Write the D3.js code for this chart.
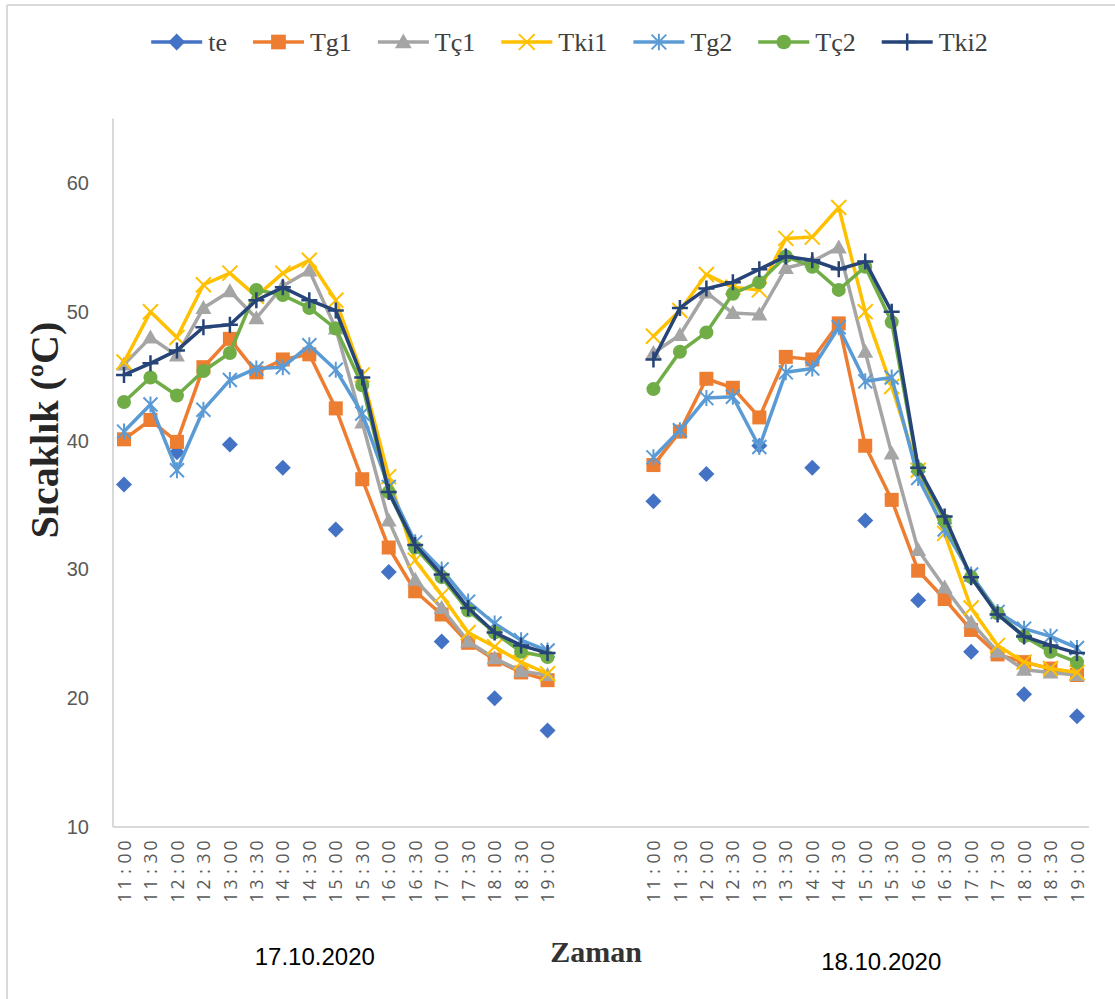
<!DOCTYPE html>
<html><head><meta charset="utf-8">
<script src="https://cdn.jsdelivr.net/npm/d3@7"></script>
<style>body{margin:0;background:#fff} svg{display:block}</style>
</head><body>
<svg id="chart" width="1115" height="999"></svg>
<script>
// ---------------- data ----------------
const times = ["11:00","11:30","12:00","12:30","13:00","13:30","14:00","14:30","15:00","15:30","16:00","16:30","17:00","17:30","18:00","18:30","19:00"];
const gapSlots = ["gap1","gap2","gap3"];
const dayLabels = ["17.10.2020","18.10.2020"];
const seriesNames = ["te","Tg1","Tç1","Tki1","Tg2","Tç2","Tki2"];
const yTicks = [10,20,30,40,50,60];

const te_d1   = [36.6,null,39.1,null,39.7,null,37.9,null,33.1,null,29.8,null,24.4,null,20.0,null,17.5];
const te_d2   = [35.3,null,37.4,null,39.6,null,37.9,null,33.8,null,27.6,null,23.6,null,20.3,null,18.6];
const tg1_d1  = [40.1,41.6,39.9,45.7,47.9,45.3,46.3,46.7,42.5,37.0,31.7,28.3,26.5,24.3,23.0,22.0,21.4];
const tg1_d2  = [38.1,40.7,44.8,44.1,41.8,46.5,46.3,49.1,39.6,35.4,29.9,27.7,25.3,23.4,22.8,22.3,21.8];
const tc1_d1  = [45.9,48.0,46.6,50.3,51.6,49.5,52.0,53.2,48.7,41.4,33.8,29.2,27.0,24.4,23.1,22.1,21.8];
const tc1_d2  = [46.8,48.2,51.5,49.9,49.8,53.4,53.9,55.0,46.9,39.0,31.5,28.6,25.9,23.6,22.2,22.0,21.8];
const tki1_d1 = [46.1,50.0,48.0,52.1,53.0,51.2,53.0,54.0,50.9,45.1,37.2,30.7,28.0,25.1,24.0,22.8,21.9];
const tki1_d2 = [48.1,50.1,52.9,51.9,51.7,55.7,55.8,58.1,50.0,44.2,37.7,32.8,27.0,24.1,22.8,22.3,22.0];
const tg2_d1  = [40.7,42.8,37.7,42.4,44.7,45.6,45.7,47.4,45.5,42.1,36.4,32.1,30.0,27.5,25.8,24.5,23.7];
const tg2_d2  = [38.7,40.8,43.3,43.4,39.5,45.3,45.6,48.8,44.6,44.9,37.1,33.1,29.6,26.7,25.4,24.8,23.9];
const tc2_d1  = [43.0,44.9,43.5,45.4,46.8,51.7,51.3,50.3,48.7,44.3,36.0,31.7,29.4,26.8,25.1,23.6,23.2];
const tc2_d2  = [44.0,46.9,48.4,51.4,52.3,54.3,53.5,51.7,53.5,49.2,37.8,33.8,29.4,26.6,24.8,23.6,22.8];
const tki2_d1 = [45.1,46.0,47.0,48.8,49.0,50.9,51.9,50.9,50.1,44.9,36.0,31.9,29.6,27.0,25.1,24.1,23.5];
const tki2_d2 = [46.3,50.3,51.8,52.3,53.3,54.3,54.0,53.3,53.9,50.0,37.9,34.1,29.4,26.5,24.8,24.1,23.5];

const seriesData = [
  [te_d1, te_d2], [tg1_d1, tg1_d2], [tc1_d1, tc1_d2], [tki1_d1, tki1_d2],
  [tg2_d1, tg2_d2], [tc2_d1, tc2_d2], [tki2_d1, tki2_d2]
];
const colors = ["#4472C4","#ED7D31","#A5A5A5","#FFC000","#5B9BD5","#70AD47","#264478"];
const markers = ["diamond","square","triangle","x","star","circle","plus"];
const showLine = [false,true,true,true,true,true,true];

// ---------------- chart ----------------
const svg = d3.select("#chart");
const cats1 = times.map(t => "d1 " + t);
const cats2 = times.map(t => "d2 " + t);
const cats = cats1.concat(gapSlots, cats2);

const x = d3.scalePoint().domain(cats).range([124, 1077]);
const y = d3.scaleLinear().domain([10, 65]).range([827, 118.6]);

// chart area border
svg.append("line").attr("x1",7).attr("x2",1115).attr("y1",5).attr("y2",5).attr("stroke","#d9d9d9").attr("stroke-width",2);
svg.append("line").attr("x1",7).attr("x2",7).attr("y1",5).attr("y2",999).attr("stroke","#d9d9d9").attr("stroke-width",2);

// axes lines
svg.append("line").attr("x1",113).attr("x2",1089).attr("y1",y(10)).attr("y2",y(10)).attr("stroke","#d9d9d9").attr("stroke-width",2);
svg.append("line").attr("x1",113).attr("x2",113).attr("y1",y(65)).attr("y2",y(10)).attr("stroke","#d9d9d9").attr("stroke-width",2);

// y axis
const yAxis = svg.append("g").attr("transform","translate(113,0)")
  .call(d3.axisLeft(y).tickValues(yTicks).tickSize(0).tickPadding(24));
yAxis.select(".domain").remove();
yAxis.selectAll("text").attr("font-family","Liberation Sans, Arial, sans-serif").attr("font-size",20).attr("fill","#595959");

// x axis (rotated labels, characters evenly spaced)
const xAxis = svg.append("g").attr("transform",`translate(0,${y(10)})`)
  .call(d3.axisBottom(x).tickValues(cats1.concat(cats2)).tickSize(0).tickFormat(d => d.slice(3)));
xAxis.select(".domain").remove();
xAxis.selectAll("text")
  .attr("font-family","Open Sans, sans-serif").attr("font-size",17.5).attr("fill","#595959")
  .attr("text-anchor","middle").attr("transform","rotate(-90)")
  .attr("y",0).attr("dy","0.35em")
  .attr("x", function() {
    const n = this.textContent.length;
    return d3.range(n).map(i => -(902 - 827) + 4.5 + i*13).join(" ");
  });

// axis titles
svg.append("text").attr("transform","translate(58,430) rotate(-90)").attr("text-anchor","middle")
  .attr("font-family","Liberation Serif, Times New Roman, serif").attr("font-weight","bold")
  .attr("font-size",40).attr("fill","#262626").text("Sıcaklık (ºC)");
svg.append("text").attr("x",596).attr("y",962).attr("text-anchor","middle")
  .attr("font-family","Liberation Serif, Times New Roman, serif").attr("font-weight","bold")
  .attr("font-size",30).attr("fill","#333").text("Zaman");
const dayCenters = [
  (x(cats1[0]) + x(cats1[cats1.length-1]))/2 - 21,
  (x(cats2[0]) + x(cats2[cats2.length-1]))/2 + 16
];
svg.append("text").attr("x",dayCenters[0]).attr("y",965).attr("text-anchor","middle")
  .attr("font-family","Liberation Sans, Arial, sans-serif").attr("font-size",24).attr("fill","#000").text(dayLabels[0]);
svg.append("text").attr("x",dayCenters[1]).attr("y",970).attr("text-anchor","middle")
  .attr("font-family","Liberation Sans, Arial, sans-serif").attr("font-size",24).attr("fill","#000").text(dayLabels[1]);

// marker drawing
function drawMarker(g, type, color, cx, cy, s) {
  s = s || 1;
  if (type === "diamond") {
    const r = 8*s;
    g.append("path").attr("d",`M${cx},${cy-r}L${cx+r},${cy}L${cx},${cy+r}L${cx-r},${cy}Z`).attr("fill",color);
  } else if (type === "square") {
    const h = 7*s;
    g.append("rect").attr("x",cx-h).attr("y",cy-h).attr("width",2*h).attr("height",2*h).attr("fill",color);
  } else if (type === "triangle") {
    g.append("path").attr("d",`M${cx},${cy-8*s}L${cx+8*s},${cy+6*s}L${cx-8*s},${cy+6*s}Z`).attr("fill",color);
  } else if (type === "circle") {
    g.append("circle").attr("cx",cx).attr("cy",cy).attr("r",7*s).attr("fill",color);
  } else if (type === "x") {
    const r = 7.5*s;
    g.append("path").attr("d",`M${cx-r},${cy-r}L${cx+r},${cy+r}M${cx-r},${cy+r}L${cx+r},${cy-r}`)
      .attr("stroke",color).attr("stroke-width",2).attr("fill","none");
  } else if (type === "star") {
    const r = 7*s;
    g.append("path").attr("d",`M${cx-r},${cy-r}L${cx+r},${cy+r}M${cx-r},${cy+r}L${cx+r},${cy-r}M${cx},${cy-r-1}L${cx},${cy+r+1}`)
      .attr("stroke",color).attr("stroke-width",2).attr("fill","none");
  } else if (type === "plus") {
    const r = 8*s;
    g.append("path").attr("d",`M${cx-r},${cy}L${cx+r},${cy}M${cx},${cy-r}L${cx},${cy+r}`)
      .attr("stroke",color).attr("stroke-width",2.5).attr("fill","none");
  }
}

// series
const line = d3.line().defined(d => d.v != null).x(d => x(d.c)).y(d => y(d.v));
seriesNames.forEach((name, si) => {
  const g = svg.append("g");
  [cats1, cats2].forEach((cs, di) => {
    const pts = cs.map((c, i) => ({c, v: seriesData[si][di][i]}));
    if (showLine[si]) {
      g.append("path").attr("d", line(pts)).attr("fill","none").attr("stroke",colors[si])
        .attr("stroke-width",3.5).attr("stroke-linejoin","round").attr("stroke-linecap","round");
    }
    pts.filter(p => p.v != null).forEach(p => drawMarker(g, markers[si], colors[si], x(p.c), y(p.v)));
  });
});

// legend
const leg = svg.append("g");
const lineLen = 51, txtGap = 6, itemGap = 26, legY = 42;
const items = seriesNames.map((n, i) => {
  const t = leg.append("text").attr("font-family","Liberation Serif, Times New Roman, serif")
    .attr("font-size",26).attr("fill","#404040").text(n);
  return {t, w: t.node().getComputedTextLength()};
});
const total = items.reduce((a, it) => a + lineLen + txtGap + it.w, 0) + itemGap*(items.length-1);
let cx = 569.5 - total/2;
items.forEach((it, i) => {
  leg.append("line").attr("x1",cx).attr("x2",cx+lineLen).attr("y1",legY).attr("y2",legY)
    .attr("stroke",colors[i]).attr("stroke-width",3.5);
  drawMarker(leg, markers[i], colors[i], cx + lineLen/2, legY, 1.05);
  it.t.attr("x", cx + lineLen + txtGap).attr("y", legY + 9);
  cx += lineLen + txtGap + it.w + itemGap;
});
</script>
</body></html>
